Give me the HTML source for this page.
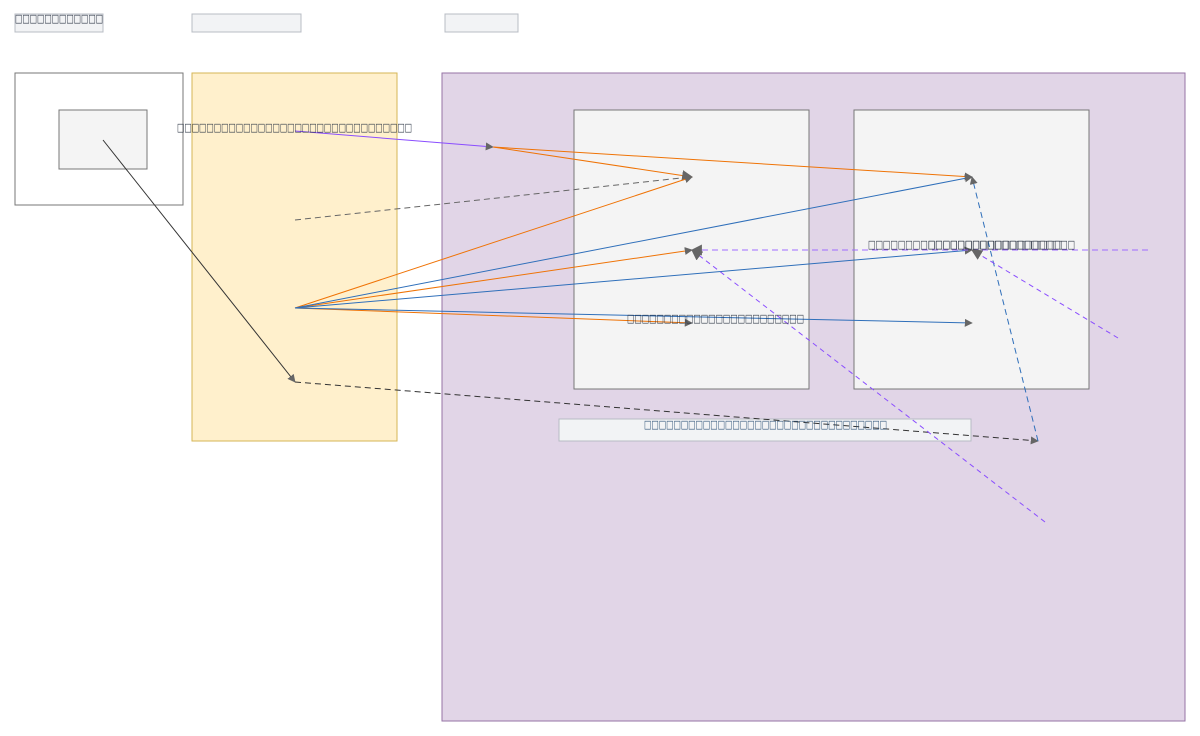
<!DOCTYPE html>
<html><head><meta charset="utf-8"><style>body{margin:0;background:#fff}svg{display:block}</style></head><body>
<svg width="1200" height="736" viewBox="0 0 1200 736" xmlns="http://www.w3.org/2000/svg" font-family="DejaVu Sans, sans-serif" font-size="11">
<defs>
<marker id="a" viewBox="0 0 10 10" refX="9" refY="5" markerWidth="8" markerHeight="8" markerUnits="userSpaceOnUse" orient="auto"><path d="M0,0L10,5L0,10z" fill="#666"/></marker>
<marker id="b" viewBox="0 0 10 10" refX="9" refY="5" markerWidth="11" markerHeight="11" markerUnits="userSpaceOnUse" orient="auto"><path d="M0,0L10,5L0,10z" fill="#666"/></marker>
</defs>
<rect x="15" y="14" width="88" height="18" fill="#f2f3f5" stroke="#b8bcc4"/>
<rect x="192" y="14" width="109" height="18" fill="#f2f3f5" stroke="#b8bcc4"/>
<rect x="445" y="14" width="73" height="18" fill="#f2f3f5" stroke="#b8bcc4"/>
<rect x="15" y="73" width="168" height="132" fill="#fff" stroke="#777"/>
<rect x="59" y="110" width="88" height="59" fill="#f4f4f4" stroke="#777"/>
<rect x="192" y="73" width="205" height="368" fill="#fff0cc" stroke="#d6b656"/>
<rect x="442" y="73" width="743" height="648" fill="#e1d5e7" stroke="#9673a6"/>
<rect x="574" y="110" width="235" height="279" fill="#f4f4f4" stroke="#777"/>
<rect x="854" y="110" width="235" height="279" fill="#f4f4f4" stroke="#777"/>
<rect x="559" y="419" width="412" height="22" fill="#f2f3f5" stroke="#b8bcc4"/>
<g fill="none" stroke-width="1">
<line x1="295" y1="131" x2="493" y2="147" stroke="#8a4dff" marker-end="url(#a)"/>
<line x1="493" y1="147" x2="692" y2="177" stroke="#ef7306" marker-end="url(#b)"/>
<line x1="493" y1="147" x2="972" y2="177" stroke="#ef7306" marker-end="url(#a)"/>
<line x1="295" y1="220" x2="690" y2="177" stroke="#666" stroke-dasharray="6,4"/>
<line x1="295" y1="308" x2="692" y2="177" stroke="#ef7306" marker-end="url(#a)"/>
<line x1="295" y1="308" x2="692" y2="250" stroke="#ef7306" marker-end="url(#a)"/>
<line x1="295" y1="308" x2="692" y2="323" stroke="#ef7306" marker-end="url(#a)"/>
<line x1="295" y1="308" x2="972" y2="177" stroke="#2f6fba" marker-end="url(#a)"/>
<line x1="295" y1="308" x2="972" y2="250" stroke="#2f6fba" marker-end="url(#a)"/>
<line x1="295" y1="308" x2="972" y2="323" stroke="#2f6fba" marker-end="url(#a)"/>
<line x1="103" y1="140" x2="295" y2="382" stroke="#333" marker-end="url(#a)"/>
<line x1="295" y1="382" x2="1038" y2="441" stroke="#333" stroke-dasharray="6,4" marker-end="url(#a)"/>
<line x1="1038" y1="441" x2="972" y2="177" stroke="#2f6fba" stroke-dasharray="6,4" marker-end="url(#a)"/>
<line x1="1148" y1="250" x2="692" y2="250" stroke="#a06cff" stroke-dasharray="6,4" marker-end="url(#b)"/>
<line x1="1045" y1="522" x2="692" y2="250" stroke="#8a4dff" stroke-dasharray="5,4" marker-end="url(#b)"/>
<line x1="1118" y1="338" x2="972" y2="250" stroke="#8a4dff" stroke-dasharray="5,4" marker-end="url(#b)"/>
</g>
<g fill="#2a3342">
<text x="15" y="22" textLength="88" lengthAdjust="spacingAndGlyphs">□□□□□□□□□□□□</text>
<text x="177" y="131" textLength="235" lengthAdjust="spacingAndGlyphs">□□□□□□□□□□□□□□□□□□□□□□□□□□□□□□□□</text>
<text x="627" y="322" textLength="177" lengthAdjust="spacingAndGlyphs">□□□□□□□□□□□□□□□□□□□□□□□□</text>
<text x="868" y="248" textLength="194" lengthAdjust="spacingAndGlyphs">□□□□□□□□□□□□□□□□□□□□□□□□□□</text>
<text x="928" y="248" textLength="147" lengthAdjust="spacingAndGlyphs">□□□□□□□□□□□□□□□□□□□□</text>
<text x="644" y="428" textLength="243" lengthAdjust="spacingAndGlyphs" fill="#2a4f75">□□□□□□□□□□□□□□□□□□□□□□□□□□□□□□□□□</text>
</g>
</svg>
</body></html>
